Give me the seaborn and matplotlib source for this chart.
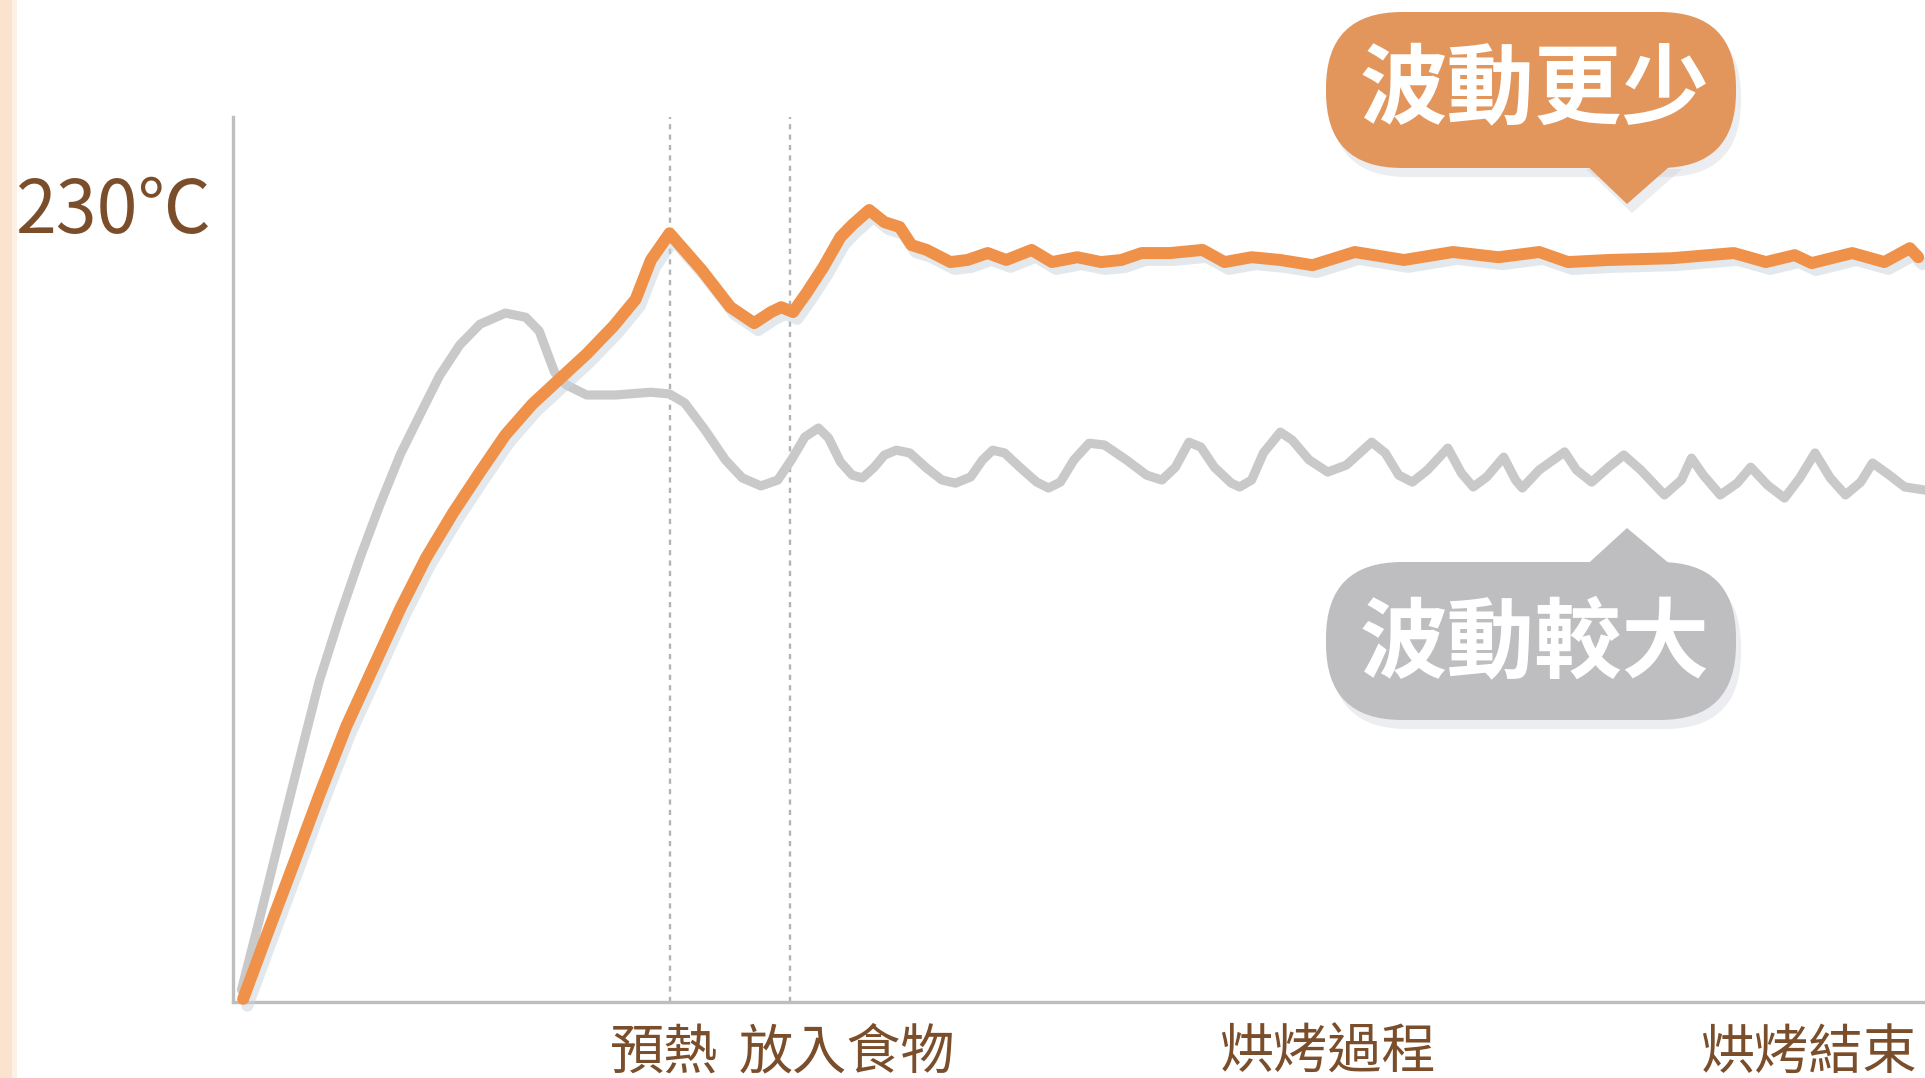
import numpy as np
import pandas as pd
import matplotlib
matplotlib.use("Agg")
import matplotlib.pyplot as plt
import matplotlib.patheffects as pe
from matplotlib.patches import FancyBboxPatch, Polygon, Rectangle
import seaborn as sns

# ---- data (time in % of the run, temperature in deg C) ----
new_time = [0.6, 2.0, 3.6, 5.1, 6.7, 8.3, 9.9, 11.4, 13.0, 14.6, 16.1, 17.7,
            19.3, 20.9, 22.5, 23.8, 24.7, 25.8, 27.7, 29.4, 30.8, 31.8, 32.4,
            33.1, 33.9, 34.9, 35.9, 36.6, 37.6, 38.5, 39.4, 40.1, 41.0, 42.4,
            43.4, 44.6, 45.7, 47.2, 48.4, 49.9, 51.3, 52.5, 53.7, 55.4, 57.3,
            58.6, 60.2, 61.9, 63.8, 66.3, 69.2, 72.1, 74.8, 77.2, 78.9, 81.3,
            85.0, 88.7, 90.6, 92.3, 93.3, 95.7, 97.6, 99.1, 99.6]
new_temp = [0.9, 19.3, 40.0, 59.6, 79.5, 96.5, 113.5, 127.9, 140.9, 152.7,
            163.4, 172.3, 179.5, 186.7, 194.8, 202.5, 213.8, 221.5, 210.9,
            200.2, 195.6, 198.8, 200.2, 198.8, 204.3, 211.8, 220.4, 223.9,
            228.2, 224.7, 223.3, 218.1, 216.7, 213.2, 213.8, 215.8, 213.8,
            216.7, 213.2, 214.6, 213.2, 213.8, 215.8, 215.8, 216.7, 213.2,
            214.6, 213.8, 212.3, 216.1, 213.8, 216.1, 214.6, 216.1, 213.2,
            213.8, 214.3, 215.8, 213.2, 215.2, 212.9, 215.8, 213.2, 217.2,
            214.6]

old_time = [0.5, 1.6, 2.8, 4.0, 5.1, 6.3, 7.5, 8.7, 9.9, 11.1, 12.2, 13.4,
            14.6, 16.1, 17.3, 18.1, 18.6, 19.0, 19.7, 20.9, 22.6, 24.7, 25.8,
            26.7, 27.9, 29.1, 30.1, 31.2, 32.2, 33.0, 33.8, 34.6, 35.2, 35.9,
            36.6, 37.2, 37.9, 38.5, 39.2, 40.0, 41.0, 41.9, 42.7, 43.6, 44.3,
            44.9, 45.6, 46.5, 47.5, 48.2, 48.9, 49.7, 50.6, 51.5, 52.8, 54.0,
            54.9, 55.7, 56.5, 57.2, 58.0, 59.0, 59.5, 60.2, 60.9, 61.9, 62.6,
            63.6, 64.7, 65.8, 67.3, 68.1, 68.9, 69.7, 70.6, 71.8, 72.6, 73.3,
            74.1, 75.1, 75.8, 76.2, 77.2, 78.7, 79.4, 80.3, 81.3, 82.2, 83.2,
            84.6, 85.6, 86.2, 86.9, 87.9, 88.9, 89.7, 90.7, 91.7, 92.6, 93.5,
            94.4, 95.3, 96.2, 96.9, 97.9, 98.8, 100.0]
old_temp = [3.5, 24.5, 48.1, 71.4, 92.5, 110.9, 127.9, 143.5, 157.9, 169.7,
            180.4, 189.3, 195.3, 198.5, 197.3, 193.3, 186.7, 181.5, 177.8,
            174.9, 174.9, 175.7, 175.2, 172.6, 164.8, 156.2, 151.0, 148.7,
            150.4, 156.2, 162.8, 165.4, 162.5, 155.6, 151.8, 151.0, 154.1,
            157.6, 159.0, 158.2, 153.8, 150.4, 149.5, 151.3, 156.2, 159.0,
            158.2, 154.1, 149.8, 148.1, 149.8, 156.2, 161.0, 160.5, 156.2,
            151.8, 150.4, 154.1, 161.3, 159.9, 154.1, 149.5, 148.4, 150.4,
            158.2, 164.2, 161.9, 156.2, 152.7, 154.7, 161.3, 158.2, 151.8,
            149.8, 153.3, 159.6, 152.4, 148.4, 151.3, 157.0, 150.4, 148.1,
            153.3, 158.5, 153.3, 149.8, 154.1, 157.6, 153.3, 146.1, 150.4,
            156.7, 151.8, 146.1, 149.5, 154.1, 148.9, 145.2, 151.0, 158.2,
            151.0, 146.1, 149.8, 155.3, 151.8, 148.4, 147.5]

event_time = [25.8, 32.9]                      # preheat done, food in
stage_labels = ["預熱", "放入食物", "烘烤過程", "烘烤結束"]
stage_pos = [25.5, 36.3, 64.7, 93.1]
temp_ticks = [230]
temp_tick_labels = ["230℃"]
bubble_texts = ["波動更少", "波動較大"]

ORANGE = "#EF9149"
GREY_LINE = "#C9C9C9"
BROWN = "#7B4E2B"

sns.set_theme(style="white")
plt.rcParams["font.family"] = ["Noto Sans CJK TC", "DejaVu Sans"]

fig = plt.figure(figsize=(19.25, 10.78), dpi=100)
ax = fig.add_axes([233 / 1925, 76 / 1078, 1692 / 1925, 885 / 1078])

new_df = pd.DataFrame({"time": new_time, "temp": new_temp})
old_df = pd.DataFrame({"time": old_time, "temp": old_temp})

# event markers
for t in event_time:
    ax.axvline(t, color="#B3B3B3", lw=1.7, ls=(0, (2.2, 2.2)), zorder=1)

sns.lineplot(data=old_df, x="time", y="temp", ax=ax, color=GREY_LINE,
             linewidth=6.6, estimator=None, sort=False, zorder=2)
sns.lineplot(data=new_df, x="time", y="temp", ax=ax, color=ORANGE,
             linewidth=8.6, estimator=None, sort=False, zorder=3)
for ln in ax.lines[-2:]:
    ln.set_solid_capstyle("round")
    ln.set_solid_joinstyle("round")
    ln.set_clip_on(False)
ax.lines[-1].set_path_effects([
    pe.SimpleLineShadow(offset=(3, -5), shadow_color="#c9d3dd", alpha=0.5),
    pe.Normal(),
])

ax.set_xlim(0, 100)
ax.set_ylim(0, 255)
ax.set_xlabel("")
ax.set_ylabel("")
ax.set_yticks(temp_ticks, temp_tick_labels)
ax.set_xticks(stage_pos, stage_labels)
ax.tick_params(axis="y", length=0, pad=16, labelsize=53, labelcolor=BROWN)
ax.tick_params(axis="x", length=0, pad=17, labelsize=39, labelcolor=BROWN)

sns.despine(ax=ax)
for side in ["left", "bottom"]:
    ax.spines[side].set_color("#BEBEBE")
    ax.spines[side].set_linewidth(2.4)

# overlay in pixel units for the call-out bubbles
over = fig.add_axes([0, 0, 1, 1], zorder=5)
over.set_xlim(0, 1925)
over.set_ylim(1078, 0)
over.axis("off")
over.patch.set_alpha(0)

# pale strip on the left edge
over.add_patch(Rectangle((0, 0), 12, 1078, color="#FBE3CD", lw=0))
over.add_patch(Rectangle((12, 0), 5, 1078, color="#FDF1E5", lw=0))


def bubble(x0, y0, x1, y1, tip_y, base_y, color, text, text_y):
    tip_x = 1627
    for dx, dy, c, a in [(5, 9, "#c6ccd4", 0.35), (0, 0, color, 1.0)]:
        body = FancyBboxPatch((x0 + dx, y0 + dy), x1 - x0, y1 - y0,
                              boxstyle="round,pad=0,rounding_size=76",
                              fc=c, ec="none", alpha=a)
        tail = Polygon([(1581 + dx, base_y + dy), (1677 + dx, base_y + dy),
                        (tip_x + dx, tip_y + dy)], closed=True,
                       fc=c, ec="none", alpha=a)
        over.add_patch(body)
        over.add_patch(tail)
    over.text((x0 + x1) / 2 + 4, text_y, text, ha="center", va="center",
              fontsize=63, color="white", weight="bold")


bubble(1326, 12, 1736, 168, 204, 160, "#E3965B", bubble_texts[0], 91)
bubble(1326, 562, 1736, 720, 528, 570, "#BEBEC1", bubble_texts[1], 645)

fig.savefig("out.png", dpi=100)
